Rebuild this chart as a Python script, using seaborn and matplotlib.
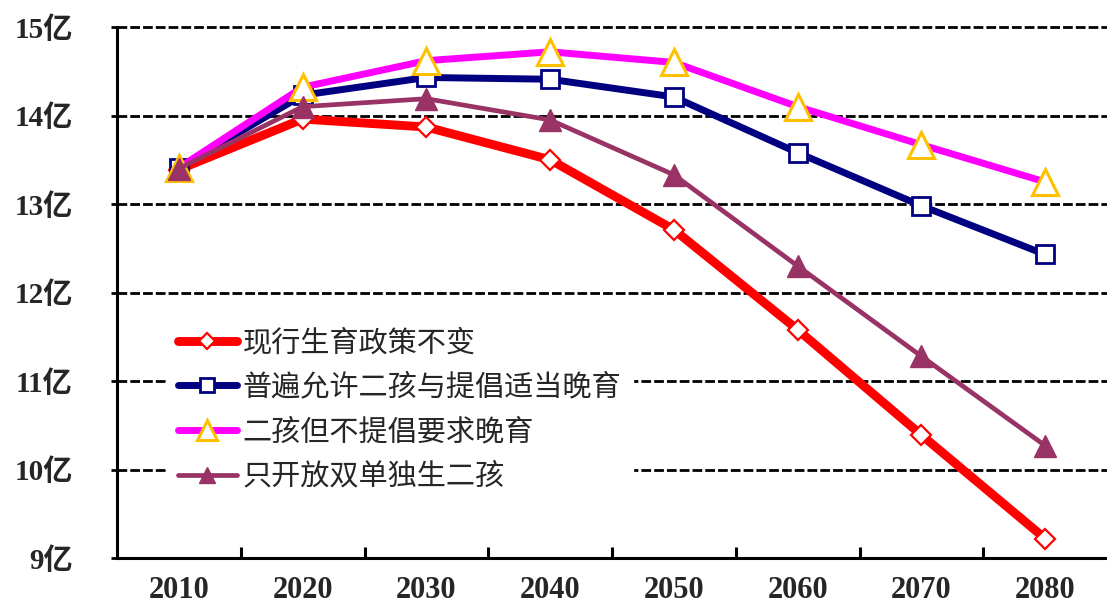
import matplotlib
matplotlib.use("Agg")
import matplotlib.pyplot as plt
from matplotlib.ticker import FixedLocator, FuncFormatter
import pandas as pd
import seaborn as sns

# Population projections (亿人) under four fertility-policy scenarios
years = ["2010", "2020", "2030", "2040", "2050", "2060", "2070", "2080"]
current_policy = [13.39, 13.96, 13.87, 13.50, 12.71, 11.58, 10.39, 9.22]
universal_two_late = [13.41, 14.23, 14.43, 14.41, 14.21, 13.58, 12.98, 12.43]
two_no_late = [13.41, 14.32, 14.62, 14.72, 14.60, 14.10, 13.67, 13.25]
double_single_two = [13.40, 14.10, 14.19, 13.95, 13.33, 12.30, 11.28, 10.27]

series_names = ["现行生育政策不变", "普遍允许二孩与提倡适当晚育",
                "二孩但不提倡要求晚育", "只开放双单独生二孩"]
y_ticks = [9, 10, 11, 12, 13, 14, 15]

series_values = [current_policy, universal_two_late, two_no_late, double_single_two]
frames = []
for name, vals in zip(series_names, series_values):
    frames.append(pd.DataFrame({"pos": range(len(years)), "year": years,
                                "value": vals, "scenario": name}))
df = pd.concat(frames, ignore_index=True)

sns.set_theme(style="white")
plt.rcParams["font.family"] = ["Noto Sans CJK SC", "DejaVu Sans"]

fig = plt.figure(figsize=(11.07, 6.06), dpi=100)
ax = fig.add_axes([0.1057, 0.0792, 0.8943, 0.8762])

styles = {
    "现行生育政策不变": dict(color="#FF0000", lw=6.4, marker="D", ms=10.5,
                        mfc="white", mec="#FF0000", mew=1.6, z=3),
    "普遍允许二孩与提倡适当晚育": dict(color="#000080", lw=5.0, marker="s", ms=12.5,
                             mfc="white", mec="#000080", mew=2.0, z=4),
    "二孩但不提倡要求晚育": dict(color="#FF00FF", lw=5.0, marker="^", ms=19,
                           mfc="white", mec="#FFC000", mew=2.2, z=5),
    "只开放双单独生二孩": dict(color="#993366", lw=3.4, marker="^", ms=16,
                          mfc="#993366", mec="#993366", mew=1.0, z=6),
}

for name in series_names:
    st = styles[name]
    sub = df[df["scenario"] == name]
    sns.lineplot(data=sub, x="pos", y="value", ax=ax, color=st["color"],
                 linewidth=st["lw"], marker=st["marker"], markersize=st["ms"],
                 markerfacecolor=st["mfc"], markeredgecolor=st["mec"],
                 markeredgewidth=st["mew"], label=name, zorder=st["z"],
                 solid_capstyle="round", solid_joinstyle="round")

ax.set_xlim(-0.5, len(years) - 0.5)
ax.set_ylim(9, 15)

# category labels under the points, tick marks between categories
ax.xaxis.set_major_locator(FixedLocator(range(len(years))))
ax.set_xticklabels(years)
ax.xaxis.set_minor_locator(FixedLocator([i + 0.5 for i in range(len(years) - 1)]))
ax.tick_params(axis="x", which="major", length=0, pad=13)
ax.tick_params(axis="x", which="minor", direction="in", length=8, width=2.2,
               color="black", bottom=True)
for lbl in ax.get_xticklabels():
    lbl.set_fontfamily(["Liberation Serif", "DejaVu Serif"])
    lbl.set_fontweight("bold")
    lbl.set_fontsize(22)

ax.yaxis.set_major_locator(FixedLocator(y_ticks))
ax.yaxis.set_major_formatter(FuncFormatter(lambda v, p: f"{int(v)}亿"))
ax.tick_params(axis="y", which="major", direction="out", length=4, width=2,
               color="black", left=True, pad=28)
for lbl in ax.get_yticklabels():
    lbl.set_fontfamily(["Liberation Serif", "Noto Sans CJK SC"])
    lbl.set_fontweight("bold")
    lbl.set_fontsize(21)

ax.set_xlabel("")
ax.set_ylabel("")

# dashed horizontal gridlines
ax.yaxis.grid(True, color="black", linewidth=2.0, linestyle=(0, (3.5, 1.1)))
ax.xaxis.grid(False)
ax.set_axisbelow(True)
for g in ax.get_ygridlines():
    g.set_clip_on(False)

for side in ["top", "right"]:
    ax.spines[side].set_visible(False)
for side in ["left", "bottom"]:
    ax.spines[side].set_color("black")
    ax.spines[side].set_linewidth(2.2)

leg = ax.legend(loc="upper left", bbox_to_anchor=(0.05, 0.455), frameon=True,
                fancybox=False, edgecolor="white", facecolor="white", framealpha=1,
                prop={"family": ["Noto Sans CJK SC", "DejaVu Sans"], "size": 21},
                handlelength=2.0, handletextpad=0.2, labelspacing=0.5,
                borderpad=0.4, borderaxespad=0, markerscale=0.75)
leg.set_zorder(10)

fig.savefig("out.png", dpi=100)
